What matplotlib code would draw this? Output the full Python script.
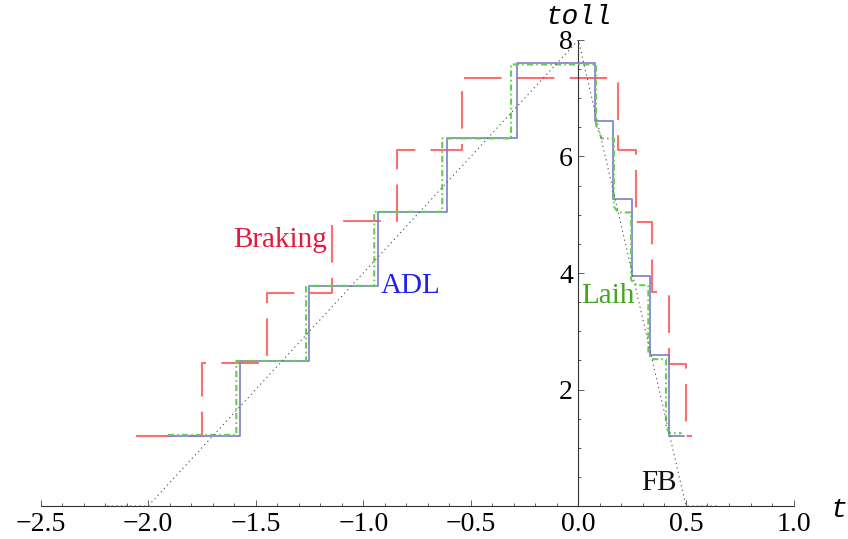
import numpy as np
import matplotlib
matplotlib.use("Agg")
import matplotlib.pyplot as plt
from matplotlib.ticker import MultipleLocator, FixedLocator, FixedFormatter

plt.rcParams["lines.scale_dashes"] = False

# Braking: piecewise-constant toll between step edges
braking_edges = [-2.057, -1.751, -1.449, -1.147, -0.845, -0.543,
                 0.186, 0.266, 0.344, 0.421, 0.500, 0.530]
braking_levels = [1.21, 2.45, 3.66, 4.90, 6.12, 7.35,
                  6.12, 4.88, 3.67, 2.44, 1.21]

# ADL: piecewise-constant toll between step edges
adl_edges = [-1.908, -1.573, -1.251, -0.930, -0.609, -0.287,
             0.077, 0.162, 0.248, 0.333, 0.420, 0.492]
adl_levels = [1.21, 2.49, 3.78, 5.05, 6.31, 7.60,
              6.61, 5.27, 3.95, 2.60, 1.21]

# Laih: toll path (time, toll)
laih_t = [-1.908, -1.590, -1.590, -1.266, -1.266, -0.949, -0.949, -0.633,
          -0.633, -0.313, -0.313, 0.082, 0.082, 0.108, 0.165, 0.165, 0.185,
          0.245, 0.245, 0.271, 0.325, 0.325, 0.341, 0.407, 0.407, 0.426, 0.480]
laih_v = [1.22, 1.22, 2.49, 2.49, 3.78, 3.78, 5.05, 5.05,
          6.31, 6.31, 7.58, 7.58, 6.54, 6.31, 6.31, 5.14, 5.04,
          5.04, 3.88, 3.79, 3.79, 2.62, 2.52, 2.52, 1.34, 1.25, 1.25]

# FB: first-best toll
fb_t = [-2.19, -2.0, 0.0, 0.5, 0.655]
fb_v = [0.0, 0.0, 8.0, 0.0, 0.0]

x_ticks = [-2.5, -2.0, -1.5, -1.0, -0.5, 0.0, 0.5, 1.0]
x_tick_labels = ["\u22122.5", "\u22122.0", "\u22121.5", "\u22121.0",
                 "\u22120.5", "0.0", "0.5", "1.0"]
y_ticks = [2, 4, 6, 8]
y_tick_labels = ["2", "4", "6", "8"]


def stair_path(edges, levels):
    e = np.asarray(edges, dtype=float)
    v = np.asarray(levels, dtype=float)
    return np.repeat(e, 2)[1:-1], np.repeat(v, 2)


fig = plt.figure(figsize=(8.48, 5.39), dpi=100)
ax = fig.add_axes([0.0478, 0.0612, 0.888, 0.8646])
ax.set_xlim(-2.5, 1.0)
ax.set_ylim(0, 8)

bx, by = stair_path(braking_edges, braking_levels)
ax.plot(bx, by, color="#ff6e6e", lw=1.5, dashes=(27, 11), zorder=2,
        solid_capstyle="butt", dash_capstyle="butt")

ax_, ay_ = stair_path(adl_edges, adl_levels)
ax.plot(ax_, ay_, color="#7d7dc8", lw=1.2, zorder=3)

ax.plot(laih_t, laih_v, color="#66cc55", lw=1.5, dashes=(4.5, 2.2, 1.2, 2.2),
        zorder=4)

ax.plot(fb_t, fb_v, color="#555555", lw=0.8, dashes=(0.9, 2.4), zorder=5)

# axes through the origin
for side in ("top", "right"):
    ax.spines[side].set_visible(False)
ax.spines["left"].set_position(("data", 0))
ax.spines["left"].set_bounds(0, 8)
for side in ("left", "bottom"):
    ax.spines[side].set_linewidth(0.8)
    ax.spines[side].set_color("#333333")

serif = "Liberation Serif"
ax.xaxis.set_major_locator(FixedLocator(x_ticks))
ax.xaxis.set_major_formatter(FixedFormatter(x_tick_labels))
ax.xaxis.set_minor_locator(MultipleLocator(0.1))
ax.yaxis.set_major_locator(FixedLocator(y_ticks))
ax.yaxis.set_major_formatter(FixedFormatter(y_tick_labels))
ax.yaxis.set_minor_locator(MultipleLocator(0.5))
ax.tick_params(which="both", direction="in", color="#444444", width=0.6)
ax.tick_params(which="major", length=4.5)
ax.tick_params(which="minor", length=2.5)
ax.tick_params(axis="x", which="major", pad=4)
ax.tick_params(axis="y", which="major", pad=4)
for lab in ax.get_xticklabels() + ax.get_yticklabels():
    lab.set_fontfamily(serif)
    lab.set_fontsize(20)

mono = "Liberation Mono"
ax.text(0.0, 8.39, "toll", family=mono, style="italic", fontsize=20,
        ha="center", va="center", clip_on=False)
ax.text(1.21, -0.07, "t", family=mono, style="italic", fontsize=20,
        ha="center", va="center", clip_on=False)

ax.text(-1.387, 4.45, "Braking", family=serif, fontsize=21, color="#e6193c",
        ha="center", va="baseline")
ax.text(-0.778, 3.66, "ADL", family=serif, fontsize=21, color="#2020f0",
        ha="center", va="baseline")
ax.text(0.139, 3.48, "Laih", family=serif, fontsize=21, color="#46a51e",
        ha="center", va="baseline")
ax.text(0.375, 0.275, "FB", family=serif, fontsize=21, color="#111111",
        ha="center", va="baseline")

fig.savefig("out.png", dpi=100)
